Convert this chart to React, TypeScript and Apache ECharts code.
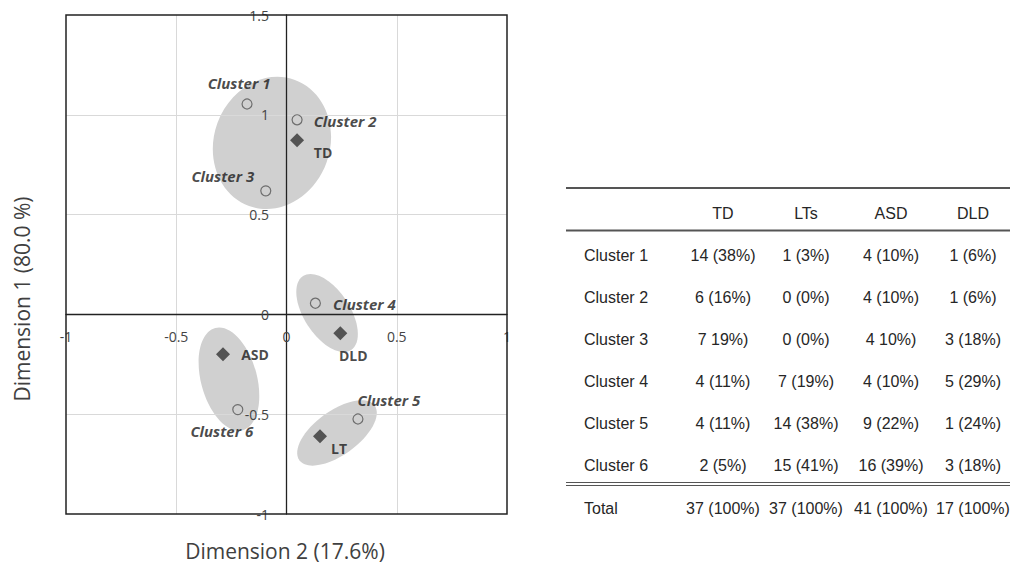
import React, { useEffect, useRef } from "react";
import * as echarts from "echarts";

// ---- Scatter data (Dimension 2 = x, Dimension 1 = y) ----
const clusterNames = ["Cluster 1", "Cluster 2", "Cluster 3", "Cluster 4", "Cluster 5", "Cluster 6"];
const clusterX = [-0.179, 0.048, -0.094, 0.131, 0.324, -0.221];
const clusterY = [1.054, 0.975, 0.619, 0.056, -0.524, -0.477];

const groupNames = ["TD", "DLD", "ASD", "LT"];
const groupX = [0.048, 0.244, -0.288, 0.152];
const groupY = [0.872, -0.095, -0.2, -0.611];

// ---- Ellipses: centre (x, y), semi-axes (in Dimension 2 units), rotation (deg, ccw) ----
const ellipseCX = [-0.066, 0.184, -0.261, 0.229];
const ellipseCY = [0.859, 0.007, -0.324, -0.594];
const ellipseRX = [0.263, 0.104, 0.127, 0.211];
const ellipseRY = [0.304, 0.2, 0.24, 0.1];
const ellipseRot = [-20, 33, 15, 36];

// ---- Axis ----
const xMin = -1, xMax = 1, yMin = -1, yMax = 1.5, tickStep = 0.5;
const xTitle = "Dimension 2 (17.6%)";
const yTitle = "Dimension 1 (80.0 %)";

// ---- Table ----
const tableHeader = ["TD", "LTs", "ASD", "DLD"];
const tableRowNames = ["Cluster 1", "Cluster 2", "Cluster 3", "Cluster 4", "Cluster 5", "Cluster 6", "Total"];
const tdVals = ["14 (38%)", "6 (16%)", "7 19%)", "4 (11%)", "4 (11%)", "2 (5%)", "37 (100%)"];
const ltVals = ["1 (3%)", "0 (0%)", "0 (0%)", "7 (19%)", "14 (38%)", "15 (41%)", "37 (100%)"];
const asdVals = ["4 (10%)", "4 (10%)", "4 10%)", "4 (10%)", "9 (22%)", "16 (39%)", "41 (100%)"];
const dldVals = ["1 (6%)", "1 (6%)", "3 (18%)", "5 (29%)", "1 (24%)", "3 (18%)", "17 (100%)"];

// label placement (pixel offsets of text centre from marker centre)
const labelOffsets: Record<string, [number, number]> = {
  "Cluster 1": [-8, -21],
  "Cluster 2": [48, 1],
  "Cluster 3": [-43, -15],
  "Cluster 4": [49, 1],
  "Cluster 5": [31, -19],
  "Cluster 6": [-16, 21],
  TD: [26, 12],
  DLD: [13, 22],
  ASD: [32, 0],
  LT: [19, 12],
};

const CHART_FONT = '"Open Sans", "Noto Sans", sans-serif';
const TABLE_FONT = '"Liberation Sans", Arial, sans-serif';

export default function App() {
  const ref = useRef<HTMLDivElement>(null);

  useEffect(() => {
    if (!ref.current) return;
    const chart = echarts.init(ref.current, null, { renderer: "svg" });

    const ellipseData = ellipseCX.map((cx, i) => [cx, ellipseCY[i], ellipseRX[i], ellipseRY[i], ellipseRot[i]]);

    const renderEllipse = (params: any, api: any) => {
      const c = api.coord([api.value(0), api.value(1)]);
      const unit = api.size([1, 1]);
      const rx = api.value(2) * unit[0];
      const ry = api.value(3) * unit[0];
      return {
        type: "ellipse",
        x: c[0],
        y: c[1],
        rotation: (api.value(4) * Math.PI) / 180,
        shape: { cx: 0, cy: 0, rx, ry },
        style: { fill: "#d0d0d0" },
      };
    };

    const mkLabel = (name: string, italic: boolean) => ({
      show: true,
      position: "inside",
      offset: labelOffsets[name],
      formatter: name,
      color: "#1a1a1a",
      fontFamily: CHART_FONT,
      fontSize: italic ? 15 : 14,
      fontWeight: "bold",
      fontStyle: italic ? "italic" : "normal",
    });

    const clusterData = clusterNames.map((n, i) => ({
      name: n,
      value: [clusterX[i], clusterY[i]],
      label: mkLabel(n, true),
    }));
    const groupData = groupNames.map((n, i) => ({
      name: n,
      value: [groupX[i], groupY[i]],
      label: mkLabel(n, false),
    }));

    // table graphics
    const colX = [723, 806, 891, 973];
    const rowLabelX = 584;
    const headerY = 213;
    const rowYs = [255, 297, 339, 381, 423, 465, 508];
    const colVals = [tdVals, ltVals, asdVals, dldVals];
    const tableFill = "#262626";
    const tFont = `16px ${TABLE_FONT}`;
    const graphics: any[] = [];
    const line = (y: number, w: number) => ({
      type: "line",
      shape: { x1: 566, y1: y, x2: 1010, y2: y },
      style: { stroke: "#555", lineWidth: w },
      silent: true,
    });
    graphics.push(line(188, 2), line(230.5, 2), line(482.5, 1), line(485.5, 1));
    tableHeader.forEach((h, j) => {
      graphics.push({
        type: "text",
        x: colX[j],
        y: headerY,
        style: { text: h, fill: tableFill, font: tFont, textAlign: "center", textVerticalAlign: "middle" },
      });
    });
    tableRowNames.forEach((r, i) => {
      graphics.push({
        type: "text",
        x: rowLabelX,
        y: rowYs[i],
        style: { text: r, fill: tableFill, font: tFont, textAlign: "left", textVerticalAlign: "middle" },
      });
      colVals.forEach((vals, j) => {
        graphics.push({
          type: "text",
          x: colX[j],
          y: rowYs[i],
          style: { text: vals[i], fill: tableFill, font: tFont, textAlign: "center", textVerticalAlign: "middle" },
        });
      });
    });
    // axis titles
    graphics.push({
      type: "text",
      x: 285,
      y: 551,
      style: { text: xTitle, fill: "#404040", font: `21px ${CHART_FONT}`, textAlign: "center", textVerticalAlign: "middle" },
    });
    graphics.push({
      type: "text",
      x: 22,
      y: 299,
      rotation: Math.PI / 2,
      style: { text: yTitle, fill: "#404040", font: `21px ${CHART_FONT}`, textAlign: "center", textVerticalAlign: "middle" },
    });

    const axisLabel = { fontSize: 14, color: "#444", fontFamily: CHART_FONT };

    chart.setOption({
      animation: false,
      backgroundColor: "#ffffff",
      grid: {
        left: 66,
        right: 503,
        top: 15,
        bottom: 51,
        show: true,
        z: 6,
        borderColor: "#222",
        borderWidth: 1.5,
        backgroundColor: "transparent",
      },
      xAxis: {
        type: "value",
        min: xMin,
        max: xMax,
        interval: tickStep,
        z: 3,
        axisLine: { show: true, onZero: true, lineStyle: { color: "#222", width: 1.3 } },
        axisTick: { show: false },
        axisLabel: { ...axisLabel, margin: -185 },
        splitLine: { show: true, showMinLine: false, showMaxLine: false, lineStyle: { color: "#d9d9d9", width: 1 } },
      },
      yAxis: {
        type: "value",
        min: yMin,
        max: yMax,
        interval: tickStep,
        z: 3,
        axisLine: { show: true, onZero: true, lineStyle: { color: "#222", width: 1.3 } },
        axisTick: { show: false },
        axisLabel: { ...axisLabel, margin: -203 },
        splitLine: { show: true, showMinLine: false, showMaxLine: false, lineStyle: { color: "#d9d9d9", width: 1 } },
      },
      series: [
        {
          type: "custom",
          z: 1,
          silent: true,
          renderItem: renderEllipse,
          encode: { x: 0, y: 1 },
          data: ellipseData,
        },
        {
          type: "scatter",
          name: "Clusters",
          z: 5,
          symbol: "circle",
          symbolSize: 10,
          itemStyle: { color: "rgba(255,255,255,0)", borderColor: "#555", borderWidth: 1.2 },
          data: clusterData,
        },
        {
          type: "scatter",
          name: "Groups",
          z: 5,
          symbol: "diamond",
          symbolSize: 14,
          itemStyle: { color: "#333" },
          data: groupData,
        },
      ],
      graphic: { elements: graphics },
    });

    return () => chart.dispose();
  }, []);

  return (
    <div
      ref={ref}
      style={{ position: "fixed", left: 0, top: 0, width: 1010, height: 565, background: "#fff" }}
    />
  );
}
